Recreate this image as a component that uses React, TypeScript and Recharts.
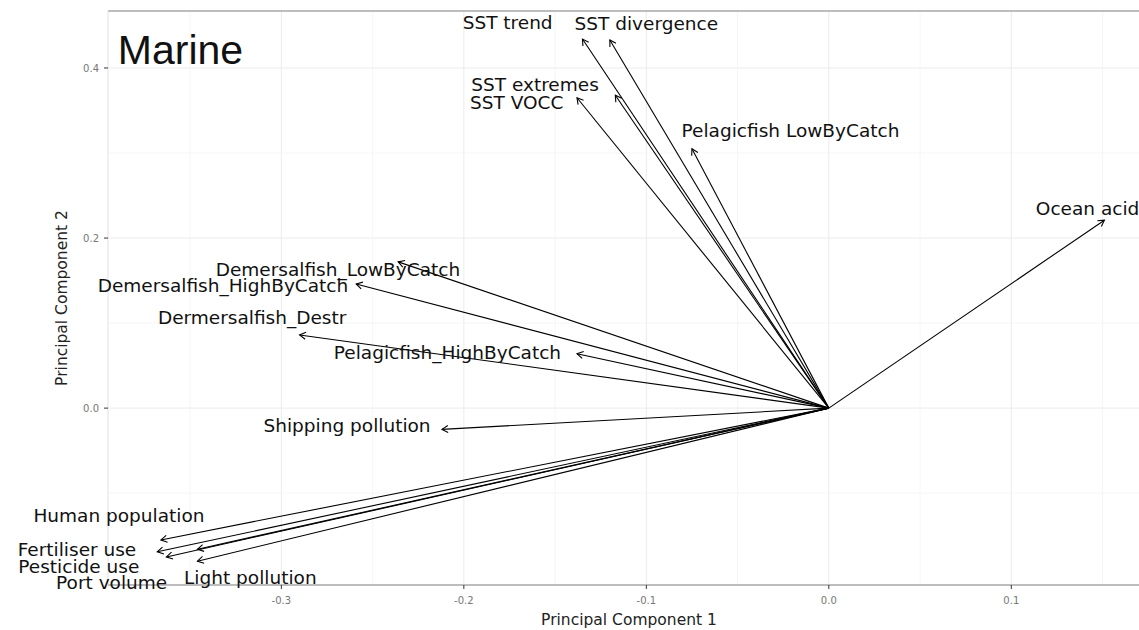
import {
  ScatterChart,
  Scatter,
  XAxis,
  YAxis,
  CartesianGrid,
  ReferenceLine,
  ReferenceDot,
} from 'recharts';

// loadings of each pressure on the first two principal components
const variables = [
  'SST trend',
  'SST divergence',
  'SST extremes',
  'SST VOCC',
  'Pelagicfish LowByCatch',
  'Ocean acidification',
  'Demersalfish_LowByCatch',
  'Demersalfish_HighByCatch',
  'Dermersalfish_Destr',
  'Pelagicfish_HighByCatch',
  'Shipping pollution',
  'Human population',
  'Fertiliser use',
  'Pesticide use',
  'Port volume',
  'Light pollution',
];
const pc1 = [-0.135, -0.12, -0.117, -0.138, -0.075, 0.151, -0.236, -0.259, -0.29, -0.138, -0.212, -0.366, -0.368, -0.363, -0.346, -0.346];
const pc2 = [0.434, 0.433, 0.368, 0.365, 0.305, 0.221, 0.172, 0.146, 0.086, 0.064, -0.025, -0.155, -0.169, -0.175, -0.166, -0.18];

// where the (repelled) labels sit
const labelPc1 = [-0.176, -0.1, -0.161, -0.171, -0.021, 0.162, -0.269, -0.332, -0.316, -0.209, -0.264, -0.389, -0.412, -0.411, -0.393, -0.317];
const labelPc2 = [0.454, 0.452, 0.381, 0.359, 0.327, 0.235, 0.163, 0.144, 0.107, 0.065, -0.02, -0.126, -0.166, -0.186, -0.205, -0.199];

const xTicks = [-0.3, -0.2, -0.1, 0, 0.1];
const yTicks = [0, 0.2, 0.4];
const xMinor = [-0.35, -0.25, -0.15, -0.05, 0.05, 0.15];
const yMinor = [-0.1, 0.1, 0.3];
const xLimits: [number, number] = [-0.395, 0.176];
const yLimits: [number, number] = [-0.208, 0.467];

const FONT = '"DejaVu Sans", Verdana, sans-serif';

function Arrow(props: any) {
  const { x1, y1, x2, y2 } = props;
  const ang = Math.atan2(y2 - y1, x2 - x1);
  const len = 7;
  const spread = Math.PI / 6;
  const a1 = ang + Math.PI - spread;
  const a2 = ang + Math.PI + spread;
  const pts = `${x2 + len * Math.cos(a1)},${y2 + len * Math.sin(a1)} ${x2},${y2} ${x2 + len * Math.cos(a2)},${y2 + len * Math.sin(a2)}`;
  return (
    <g>
      <line x1={x1} y1={y1} x2={x2} y2={y2} stroke="#000" strokeWidth={1.1} />
      <polyline points={pts} fill="none" stroke="#000" strokeWidth={1.1} />
    </g>
  );
}

export default function App() {
  return (
    <div
      style={{
        position: 'fixed',
        left: 0,
        top: 0,
        width: 1139,
        height: 630,
        overflow: 'hidden',
        background: '#fff',
      }}
    >
      <ScatterChart width={1150} height={630} margin={{ top: 11, right: 0, bottom: 0, left: 0 }}>
        <CartesianGrid stroke="#ebebeb" strokeWidth={1} />
        {xMinor.map((v) => (
          <ReferenceLine key={'xm' + v} x={v} stroke="#f4f4f4" strokeWidth={0.8} />
        ))}
        {yMinor.map((v) => (
          <ReferenceLine key={'ym' + v} y={v} stroke="#f4f4f4" strokeWidth={0.8} />
        ))}
        <XAxis
          type="number"
          dataKey="x"
          domain={xLimits}
          allowDataOverflow
          ticks={xTicks}
          tickFormatter={(v: number) => v.toFixed(1)}
          height={45}
          tickSize={4}
          tickMargin={8}
          axisLine={{ stroke: '#aaa', strokeWidth: 1.5 }}
          tickLine={{ stroke: '#333' }}
          tick={{ fill: '#777', fontSize: 10, fontFamily: FONT }}
          label={(p: any) => (
            <text
              x={p.viewBox.x + p.viewBox.width / 2}
              y={p.viewBox.y + 35}
              textAnchor="middle"
              dominantBaseline="central"
              fontFamily={FONT}
              fontSize={15.5}
              fill="#222"
            >
              Principal Component 1
            </text>
          )}
        />
        <YAxis
          type="number"
          dataKey="y"
          domain={yLimits}
          allowDataOverflow
          ticks={yTicks}
          tickFormatter={(v: number) => v.toFixed(1)}
          width={108}
          tickSize={4}
          tickMargin={5}
          axisLine={{ stroke: '#ebebeb' }}
          tickLine={{ stroke: '#333' }}
          tick={{ fill: '#777', fontSize: 10, fontFamily: FONT }}
          label={(p: any) => (
            <text
              transform={`translate(62, ${p.viewBox.y + p.viewBox.height / 2}) rotate(-90)`}
              textAnchor="middle"
              dominantBaseline="central"
              fontFamily={FONT}
              fontSize={15.5}
              fill="#222"
            >
              Principal Component 2
            </text>
          )}
        />
        <ReferenceLine y={yLimits[1]} stroke="#aaa" strokeWidth={1.5} />
        <Scatter data={[{ x: 0, y: 0 }]} isAnimationActive={false} shape={() => <g />} />
        {variables.map((name, i) => (
          <ReferenceLine
            key={'a' + name}
            segment={[
              { x: 0, y: 0 },
              { x: pc1[i], y: pc2[i] },
            ]}
            ifOverflow="visible"
            shape={(p: any) => <Arrow {...p} />}
          />
        ))}
        {variables.map((name, i) => (
          <ReferenceDot
            key={'l' + name}
            x={labelPc1[i]}
            y={labelPc2[i]}
            ifOverflow="visible"
            shape={(p: any) => (
              <text
                x={p.cx}
                y={p.cy}
                textAnchor="middle"
                dominantBaseline="central"
                fontFamily={FONT}
                fontSize={18.5}
                fill="#111"
              >
                {name}
              </text>
            )}
          />
        ))}
        <ReferenceDot
          x={-0.3896}
          y={0.4212}
          ifOverflow="visible"
          shape={(p: any) => (
            <text
              x={p.cx}
              y={p.cy}
              dominantBaseline="central"
              fontFamily='"Liberation Sans", Arial, sans-serif'
              fontSize={41}
              fill="#111"
            >
              Marine
            </text>
          )}
        />
      </ScatterChart>
    </div>
  );
}
